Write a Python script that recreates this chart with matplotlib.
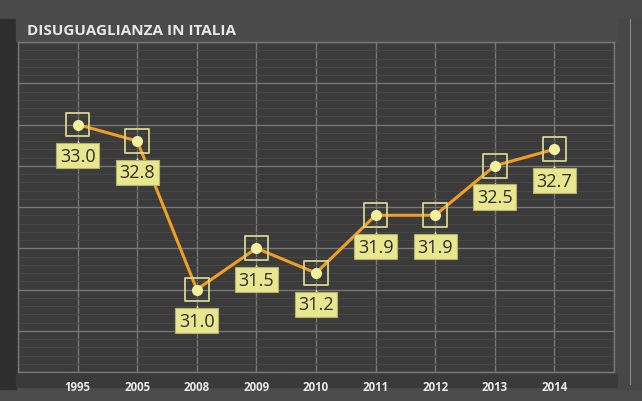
import numpy as np
import matplotlib
matplotlib.use("Agg")
import matplotlib.pyplot as plt
import matplotlib.transforms as mtransforms
from matplotlib.patches import Rectangle

# data
years = ["1995", "2005", "2008", "2009", "2010", "2011", "2012", "2013", "2014"]
gini = [33.0, 32.8, 31.0, 31.5, 31.2, 31.9, 31.9, 32.5, 32.7]
title = "DISUGUAGLIANZA IN ITALIA"

plt.rcParams['font.family'] = ['Open Sans', 'DejaVu Sans']

fig = plt.figure(figsize=(6.42, 4.02), dpi=100)
fig.patch.set_facecolor("#3e3e3e")

# background shading (left strip, right strip, top, bottom)
bg = fig.add_axes([0, 0, 1, 1], zorder=-10)
bg.set_xlim(0, 642)
bg.set_ylim(402, 0)
bg.axis("off")
grad = np.linspace(0, 1, 256).reshape(1, -1)
bg.imshow(np.vstack([grad, grad]), extent=[0, 642, 402, 0], aspect="auto",
          cmap=matplotlib.colors.LinearSegmentedColormap.from_list("g", ["#343434", "#3f3f3f", "#474747"]))
bg.add_patch(Rectangle((0, 0), 642, 20, color="#4a4a4a"))
bg.add_patch(Rectangle((0, 388), 642, 14, color="#4c4c4c"))
bg.add_patch(Rectangle((0, 20), 16, 370, color="#2e2e2e"))
bg.add_patch(Rectangle((617, 20), 25, 370, color="#474747"))
bg.plot([630, 630], [20, 385], color="#8a8a8a", lw=0.8)
# title band
bg.add_patch(Rectangle((16, 20), 601, 22, color="#4b4b4b"))
bg.text(27, 31, title, color="#e8e8e8", fontsize=11, fontweight="bold",
        va="center", ha="left")
# tick label band
bg.add_patch(Rectangle((16, 375), 601, 13, color="#3a3a3a"))

ax = fig.add_axes([18/642, 1-373/402, 596/642, 330/402])
ax.set_facecolor("#3b3b3b")
x = np.arange(len(years))
ax.set_xlim(-1, len(years))
ax.set_ylim(30, 34)

ax.set_yticks(np.arange(30, 34.01, 0.5))
ax.set_yticks(np.arange(30, 34.01, 0.1), minor=True)
ax.set_xticks(np.arange(-1, len(years) + 1))
ax.grid(which="major", color="#777777", lw=1.0)
ax.grid(which="minor", axis="y", color="#474747", lw=0.8)
ax.tick_params(which="both", length=0, labelleft=False, labelbottom=False)
for s in ax.spines.values():
    s.set_color("#777777")
    s.set_linewidth(1.0)
ax.set_axisbelow(True)

for i, yr in enumerate(years):
    ax.text(i, -0.025, yr, transform=ax.get_xaxis_transform(), ha="center", va="top",
            color="#e8e8e8", fontsize=8.3, fontweight="bold")

ax.plot(x, gini, color="#efa024", lw=2.2, zorder=3, solid_capstyle="round")
ax.scatter(x, gini, marker="s", s=290, facecolors="none", edgecolors="#d8d68c", lw=1.3, zorder=4)
ax.plot(x, gini, "o", color="#f2f09a", ms=7, zorder=5)

tri = mtransforms.offset_copy(ax.transData, fig=fig, x=0, y=-13.5, units="points")
ax.plot(x, gini, "^", color="#e8e68e", ms=5, transform=tri, zorder=5, mec="none")
for i, v in enumerate(gini):
    ax.annotate(f"{v:.1f}", (i, v), xytext=(0, -22.5), textcoords="offset points",
                ha="center", va="center", fontsize=13, color="#2e2e2e", zorder=6,
                bbox=dict(boxstyle="square,pad=0.2", fc="#e8e68e", ec="#b5b36a", lw=0.8))

fig.savefig("out.png", dpi=100, facecolor=fig.get_facecolor())
